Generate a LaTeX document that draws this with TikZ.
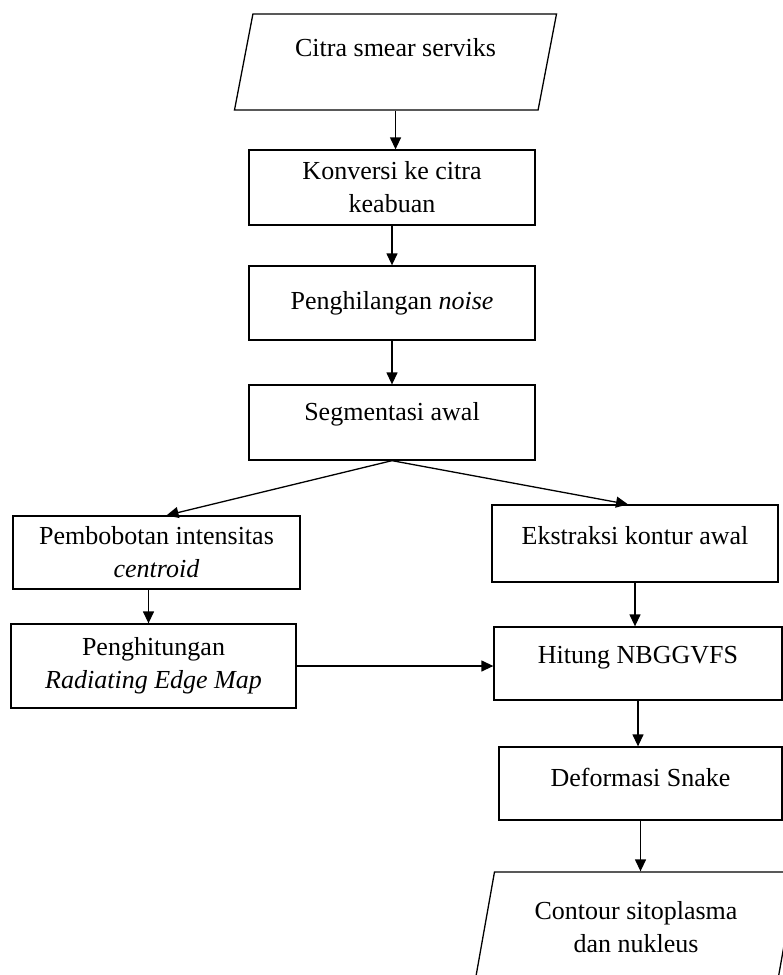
\documentclass[tikz,border=0pt]{standalone}
\usepackage{fontspec}
\setmainfont{Liberation Serif}
\usetikzlibrary{shapes.geometric,arrows.meta,positioning}

\begin{document}
\begin{tikzpicture}[x=1pt,y=-1pt,
    langkah/.style={draw,line width=1.3pt,minimum width=286pt,minimum height=75pt,align=center,font=\fontsize{26}{33}\selectfont},
    data/.style={draw,line width=1.3pt,trapezium,trapezium left angle=76,trapezium right angle=104,trapezium stretches=true,minimum width=323pt,align=center,font=\fontsize{26}{33}\selectfont},
    panah/.style={-{Triangle[length=12pt,width=11pt]},line width=1.3pt}]
  \clip (0,0) rectangle (783,975);

  \node[data,minimum height=96pt] (citra) at (395.5,62) {Citra smear serviks\\[-4pt]};
  \node[langkah] (konversi) at (392,187.5) {Konversi ke citra\\keabuan};
  \node[langkah,minimum height=74pt] (noise) at (392,303) {Penghilangan \textit{noise}};
  \node[langkah] (segmen) at (392,422.5) {Segmentasi awal\\[-10pt]};
  \node[langkah,minimum width=287pt,minimum height=73pt] (bobot) at (156.5,552.5) {Pembobotan intensitas\\\textit{centroid}};
  \node[langkah,minimum width=285pt,minimum height=84pt] (rem) at (153.5,666) {Penghitungan\\\textit{Radiating Edge Map}};
  \node[langkah,minimum height=77pt] (kontur) at (635,543.5) {Ekstraksi kontur awal\\[-16pt]};
  \node[langkah,minimum width=288pt,minimum height=73pt] (nbggvfs) at (638,663.5) {Hitung NBGGVFS\\[-16pt]};
  \node[langkah,minimum width=283pt,minimum height=73pt] (snake) at (640.5,783.5) {Deformasi Snake\\[-20pt]};
  \node[data,minimum height=110pt] (hasil) at (636,927) {Contour sitoplasma\\dan nukleus};

  \draw[panah] (citra.south) -- (citra.south |- konversi.north);
  \draw[panah] (konversi) -- (noise);
  \draw[panah] (noise) -- (segmen);
  \draw[panah] (segmen.south) -- ([xshift=10pt]bobot.north);
  \draw[panah] (segmen.south) -- ([xshift=-7pt]kontur.north);
  \draw[panah] ([xshift=-8pt]bobot.south) -- ([xshift=-8pt]bobot.south |- rem.north);
  \draw[panah] (kontur.south) -- (kontur.south |- nbggvfs.north);
  \draw[panah] (rem.east) -- (rem.east -| nbggvfs.west);
  \draw[panah] (nbggvfs) -- (nbggvfs |- snake.north);
  \draw[panah] (snake.south) -- (snake.south |- hasil.north);
\end{tikzpicture}
\end{document}
